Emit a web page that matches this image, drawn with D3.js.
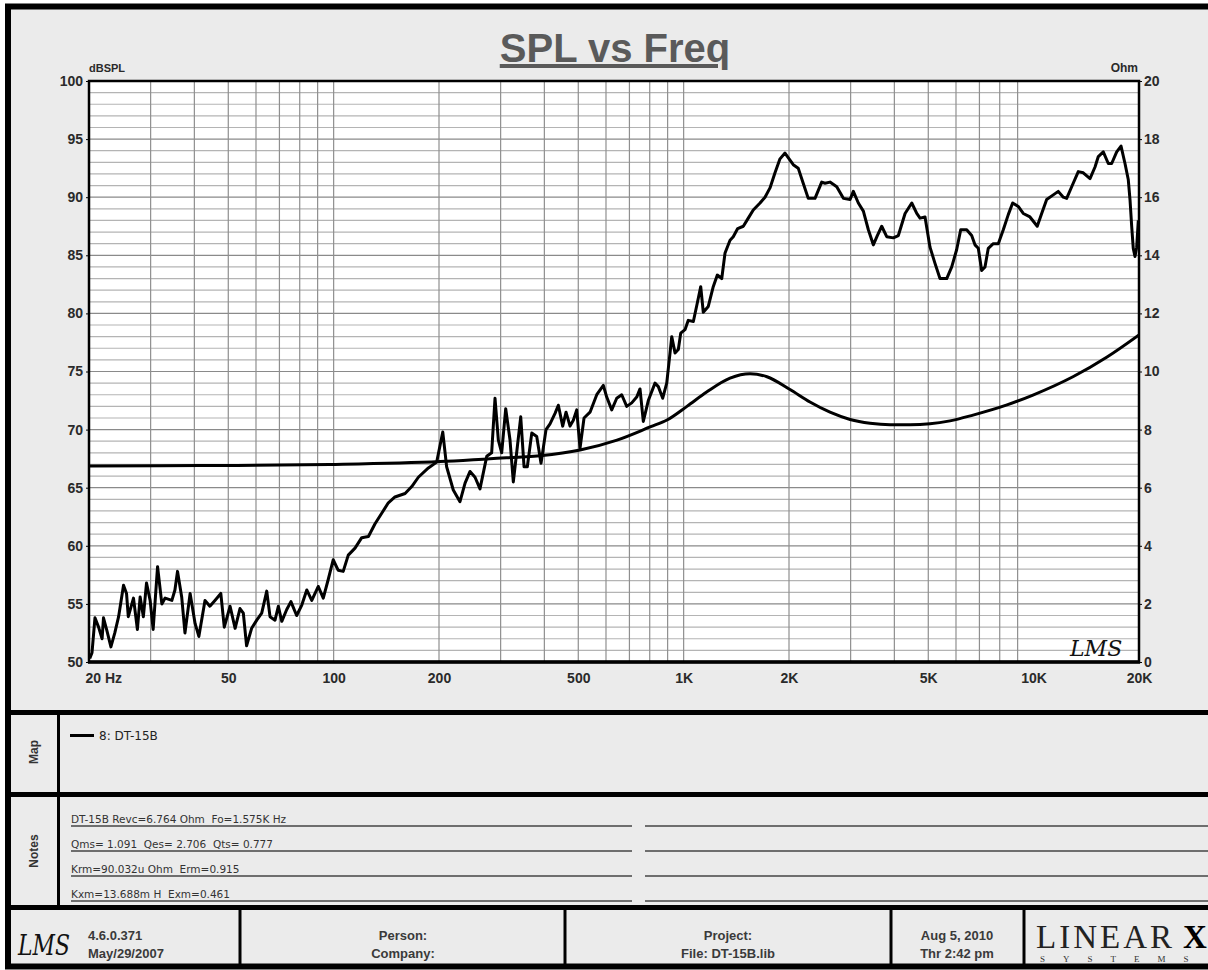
<!DOCTYPE html>
<html>
<head>
<meta charset="utf-8">
<script src="https://cdn.jsdelivr.net/npm/d3@7"></script>
<style>
  body { margin: 0; background: #fff; }
  svg { display: block; font-family: "Liberation Sans", Arial, sans-serif; }
  svg text { white-space: pre; }
</style>
</head>
<body>
<svg id="chart" width="1208" height="970"></svg>
<script>
// SPL response, [Hz, dB]
var splCurve = [
  [20.1,50.3],[20.4,50.8],[20.8,53.8],[21.3,53.0],[21.8,52.0],[22.0,53.8],[22.5,52.7],[23.1,51.3],
  [23.7,52.5],[24.3,53.9],[25.1,56.6],[25.6,55.9],[25.9,53.9],[26.8,55.5],[27.5,52.8],[28.0,55.6],
  [28.6,53.9],[29.2,56.8],[29.9,55.3],[30.5,52.8],[31.4,58.2],[32.3,55.0],[33.0,55.5],[34.5,55.3],
  [35.2,56.2],[35.8,57.8],[36.8,55.6],[37.6,52.5],[38.9,55.9],[40.2,53.3],[41.2,52.2],[42.9,55.3],
  [44.3,54.8],[45.8,55.3],[47.6,55.9],[48.7,53.0],[50.6,54.8],[52.3,52.9],[54.0,54.6],[55.2,54.2],
  [56.4,51.4],[58.3,52.9],[60.3,53.6],[62.3,54.2],[64.4,56.1],[65.8,53.9],[68.0,53.6],[69.5,54.8],
  [71.1,53.5],[73.4,54.5],[75.5,55.2],[78.4,54.0],[81.1,54.9],[83.8,56.2],[86.6,55.3],[90.4,56.5],
  [93.4,55.5],[96.5,57.1],[99.7,58.8],[103,57.9],[106.5,57.8],[110.1,59.2],[115.1,59.8],[120.3,60.7],
  [125.7,60.8],[131.3,61.9],[137.2,62.8],[143.3,63.7],[149.7,64.2],[160,64.5],[167.2,65.1],[174.6,65.9],
  [186.5,66.7],[197,67.2],[205,69.8],[210.3,66.8],[219.7,64.8],[229.6,63.8],[237.4,65.4],[245.3,66.4],
  [253.5,65.9],[261.9,64.9],[273.8,67.7],[282.8,68.0],[289.1,72.7],[295.5,69.1],[302.1,68.0],[310.2,71.8],
  [319.1,69.1],[326.1,65.5],[334.8,68.5],[342.4,71.1],[350,66.8],[357.6,66.8],[368.2,69.7],[380.4,69.4],
  [391.3,67.1],[404.4,70.0],[415.2,70.5],[429.1,71.4],[438.5,72.1],[451.3,70.3],[461.3,71.5],[473.6,70.3],
  [484,70.8],[494.9,71.7],[505.8,68.4],[519.3,71.0],[540.2,71.5],[564.6,73.0],[589.6,73.8],[602.9,72.8],
  [623.1,71.7],[643.9,72.7],[665.4,73.0],[687.7,72.0],[710.7,72.3],[734.4,72.8],[750.5,73.5],[766.9,70.7],
  [792.6,72.5],[828.3,74.0],[846.6,73.7],[871.4,72.7],[894.7,74.0],[914.4,76.6],[924.7,78.0],[944.9,76.6],
  [965.6,76.9],[981,78.3],[1009,78.6],[1031,79.4],[1066,79.3],[1094,80.9],[1119,82.3],[1138,80.1],
  [1176,80.6],[1215,82.3],[1248,83.3],[1285,83.0],[1313,85.2],[1357,86.3],[1386,86.6],[1427,87.3],
  [1481,87.5],[1530,88.2],[1581,88.9],[1653,89.5],[1708,90.0],[1765,90.8],[1824,92.1],[1885,93.3],
  [1948,93.8],[2013,93.2],[2057,92.8],[2125,92.5],[2196,91.2],[2270,89.9],[2373,89.9],[2480,91.3],
  [2535,91.2],[2619,91.3],[2738,90.9],[2860,89.9],[2989,89.8],[3054,90.5],[3156,89.5],[3262,88.8],
  [3371,87.2],[3483,85.9],[3576,86.7],[3681,87.5],[3804,86.6],[3973,86.5],[4106,86.7],[4292,88.6],
  [4485,89.5],[4635,88.6],[4736,88.2],[4894,88.3],[5057,85.7],[5226,84.3],[5400,83.0],[5645,83.0],
  [5834,84.0],[6028,85.5],[6189,87.2],[6437,87.2],[6652,86.7],[6798,85.9],[6948,85.6],[7105,83.7],
  [7261,84.0],[7420,85.6],[7668,86.0],[7925,86.0],[8190,87.2],[8463,88.5],[8710,89.5],[9037,89.2],
  [9340,88.6],[9762,88.3],[10240,87.5],[10543,88.6],[10895,89.8],[11378,90.2],[11759,90.5],[12153,90.0],
  [12428,89.9],[12844,90.9],[13414,92.2],[13862,92.1],[14490,91.6],[14975,92.6],[15303,93.5],[15812,93.9],
  [16341,92.9],[16710,92.9],[17270,93.9],[17770,94.4],[18240,92.9],[18640,91.5],[18850,89.8],[19060,87.5],
  [19260,85.6],[19480,84.9],[19700,85.7],[19910,88.0]
];

// impedance, [Hz, Ohm]
var ohmCurve = [
  [20,6.75],[41.5,6.76],[97.6,6.8],[201.3,6.9],[279.8,7.0],[388.8,7.1],[505.8,7.3],[645.1,7.64],
  [805.3,8.1],[896.4,8.33],[1022,8.8],[1166,9.3],[1357,9.77],[1548,9.92],[1730,9.82],[2013,9.38],
  [2296,8.95],[2619,8.6],[2989,8.35],[3408,8.22],[3888,8.17],[4434,8.17],[5057,8.2],[5768,8.3],
  [6712,8.5],[8393,8.85],[9955,9.19],[12950,9.82],[16210,10.5],[20000,11.26]
];

var xTickVals = [20, 50, 100, 200, 500, 1000, 2000, 5000, 10000, 20000];
var xTickText = ["20 Hz", "50", "100", "200", "500", "1K", "2K", "5K", "10K", "20K"];
var dbTicks = [50, 55, 60, 65, 70, 75, 80, 85, 90, 95, 100];
var ohmTicks = [0, 2, 4, 6, 8, 10, 12, 14, 16, 18, 20];

var legendLabel = "8: DT-15B";
var notesLines = [
  "DT-15B Revc=6.764 Ohm  Fo=1.575K Hz",
  "Qms= 1.091  Qes= 2.706  Qts= 0.777",
  "Krm=90.032u Ohm  Erm=0.915",
  "Kxm=13.688m H  Exm=0.461"
];

(function () {
  var svg = d3.select("#chart");
  var pLeft = 89, pRight = 1139, pTop = 81, pBottom = 662;

  var x = d3.scaleLog().domain([20, 20000]).range([pLeft, pRight]);
  var y = d3.scaleLinear().domain([50, 100]).range([pBottom, pTop]);
  var y2 = d3.scaleLinear().domain([0, 20]).range([pBottom, pTop]);

  // outer panel
  svg.append("rect")
    .attr("x", 8).attr("y", 6.5)
    .attr("width", 1240).attr("height", 960)
    .attr("fill", "#ebebeb")
    .attr("stroke", "#000").attr("stroke-width", 6);

  // title
  svg.append("text")
    .attr("x", 615).attr("y", 62)
    .attr("text-anchor", "middle")
    .attr("font-size", 40).attr("font-weight", "bold")
    .attr("fill", "#5a5a5a")
    .attr("text-decoration", "underline")
    .text("SPL vs Freq");

  // plot background
  svg.append("rect")
    .attr("x", pLeft).attr("y", pTop)
    .attr("width", pRight - pLeft).attr("height", pBottom - pTop)
    .attr("fill", "#fff");

  var grid = svg.append("g");

  // horizontal grid every dB
  grid.selectAll(".hg")
    .data(d3.range(51, 100))
    .enter().append("line")
    .attr("x1", pLeft).attr("x2", pRight)
    .attr("y1", d => y(d)).attr("y2", d => y(d))
    .attr("stroke", d => d % 5 == 0 ? "#8a8a8a" : "#b4b4b4")
    .attr("stroke-width", 1.2);

  // vertical log grid
  var vLines = [];
  [10, 100, 1000].forEach(function (dec) {
    for (var k = 1; k < 10; k++) {
      var f = dec * k;
      if (f > 20 && f < 20000) vLines.push(f);
    }
  });
  grid.selectAll(".vg")
    .data(vLines)
    .enter().append("line")
    .attr("x1", d => x(d)).attr("x2", d => x(d))
    .attr("y1", pTop).attr("y2", pBottom)
    .attr("stroke", "#8f8f8f")
    .attr("stroke-width", 1.2);

  svg.append("clipPath").attr("id", "plotclip")
    .append("rect")
    .attr("x", pLeft).attr("y", pTop)
    .attr("width", pRight - pLeft).attr("height", pBottom - pTop);

  var curves = svg.append("g").attr("clip-path", "url(#plotclip)");

  var ohmLine = d3.line()
    .x(d => x(d[0]))
    .y(d => y2(d[1]))
    .curve(d3.curveMonotoneX);

  var splLine = d3.line()
    .x(d => x(d[0]))
    .y(d => y(d[1]));

  curves.append("path")
    .datum(ohmCurve)
    .attr("d", ohmLine)
    .attr("fill", "none")
    .attr("stroke", "#000")
    .attr("stroke-width", 3);

  curves.append("path")
    .datum(splCurve)
    .attr("d", splLine)
    .attr("fill", "none")
    .attr("stroke", "#000")
    .attr("stroke-width", 3)
    .attr("stroke-linejoin", "round");

  // LMS mark in plot
  svg.append("text")
    .attr("x", 1070).attr("y", 656)
    .attr("font-family", "DejaVu Serif")
    .attr("font-style", "italic")
    .attr("font-size", 22)
    .attr("fill", "#111")
    .text("LMS");

  // plot frame
  svg.append("rect")
    .attr("x", pLeft).attr("y", pTop)
    .attr("width", pRight - pLeft).attr("height", pBottom - pTop)
    .attr("fill", "none")
    .attr("stroke", "#000").attr("stroke-width", 2.5);
  svg.append("line")
    .attr("x1", pLeft - 1).attr("x2", pRight + 1)
    .attr("y1", pBottom).attr("y2", pBottom)
    .attr("stroke", "#000").attr("stroke-width", 3.5);

  // axes
  var yAxis = d3.axisLeft(y).tickValues(dbTicks).tickSize(3).tickPadding(3);
  var y2Axis = d3.axisRight(y2).tickValues(ohmTicks).tickSize(3).tickPadding(2);
  var xAxis = d3.axisBottom(x).tickValues(xTickVals)
    .tickFormat((d, i) => xTickText[i]).tickSize(0).tickPadding(11);

  function styleAxis(g) {
    g.select(".domain").remove();
    g.selectAll("line").attr("stroke", "#000");
    g.selectAll("text")
      .attr("font-family", "Liberation Sans, Arial, sans-serif")
      .attr("font-size", 14)
      .attr("font-weight", "bold")
      .attr("fill", "#2a2a2a");
  }

  svg.append("g").attr("transform", "translate(" + pLeft + ",0)").call(yAxis).call(styleAxis);
  svg.append("g").attr("transform", "translate(" + pRight + ",0)").call(y2Axis).call(styleAxis);
  var xg = svg.append("g").attr("transform", "translate(0," + pBottom + ")").call(xAxis).call(styleAxis);
  xg.selectAll(".tick text")
    .filter((d, i) => i == 0)
    .attr("text-anchor", "start")
    .attr("dx", -4);

  svg.append("text")
    .attr("x", pLeft).attr("y", 72)
    .attr("font-size", 11).attr("font-weight", "bold").attr("fill", "#2a2a2a")
    .text("dBSPL");
  svg.append("text")
    .attr("x", pRight - 1).attr("y", 72)
    .attr("text-anchor", "end")
    .attr("font-size", 12).attr("font-weight", "bold").attr("fill", "#2a2a2a")
    .text("Ohm");

  // section dividers
  var dividers = svg.append("g").attr("stroke", "#000");
  dividers.append("line").attr("x1", 8).attr("x2", 1208).attr("y1", 712.5).attr("y2", 712.5).attr("stroke-width", 5);
  dividers.append("line").attr("x1", 8).attr("x2", 1208).attr("y1", 794.5).attr("y2", 794.5).attr("stroke-width", 5);
  dividers.append("line").attr("x1", 8).attr("x2", 1208).attr("y1", 907.5).attr("y2", 907.5).attr("stroke-width", 5);
  dividers.append("line").attr("x1", 58.5).attr("x2", 58.5).attr("y1", 712).attr("y2", 908).attr("stroke-width", 3);

  // side labels
  svg.append("text")
    .attr("transform", "translate(38,752) rotate(-90)")
    .attr("text-anchor", "middle")
    .attr("font-size", 12).attr("font-weight", "bold").attr("fill", "#333")
    .text("Map");
  svg.append("text")
    .attr("transform", "translate(38,851) rotate(-90)")
    .attr("text-anchor", "middle")
    .attr("font-size", 12).attr("font-weight", "bold").attr("fill", "#333")
    .text("Notes");

  // legend
  svg.append("line")
    .attr("x1", 70).attr("x2", 94).attr("y1", 735.5).attr("y2", 735.5)
    .attr("stroke", "#000").attr("stroke-width", 3);
  svg.append("text")
    .attr("x", 99).attr("y", 740)
    .attr("font-family", "DejaVu Sans, sans-serif")
    .attr("font-size", 12).attr("fill", "#222")
    .text(legendLabel);

  // notes
  var notes = svg.append("g");
  notes.selectAll(".nt")
    .data(notesLines)
    .enter().append("text")
    .attr("x", 71).attr("y", (d, i) => 823 + i * 25)
    .attr("font-family", "DejaVu Sans, sans-serif")
    .attr("font-size", 10.5).attr("fill", "#333")
    .text(d => d);
  [[71, 632], [645, 1208]].forEach(function (seg) {
    notes.selectAll(null)
      .data(notesLines)
      .enter().append("line")
      .attr("x1", seg[0]).attr("x2", seg[1])
      .attr("y1", (d, i) => 826 + i * 25).attr("y2", (d, i) => 826 + i * 25)
      .attr("stroke", "#444").attr("stroke-width", 1.5);
  });

  // footer
  var footCells = [240, 565, 891, 1024];
  dividers.selectAll(".fd")
    .data(footCells)
    .enter().append("line")
    .attr("x1", d => d).attr("x2", d => d)
    .attr("y1", 908).attr("y2", 966)
    .attr("stroke-width", 3);

  var footText = [
    {x: 88, a: "start", t1: "4.6.0.371", t2: "May/29/2007"},
    {x: 403, a: "middle", t1: "Person:", t2: "Company:"},
    {x: 728, a: "middle", t1: "Project:", t2: "File: DT-15B.lib"},
    {x: 957, a: "middle", t1: "Aug 5, 2010", t2: "Thr 2:42 pm"}
  ];
  var ft = svg.append("g")
    .attr("font-size", 13).attr("font-weight", "bold").attr("fill", "#3a3a3a");
  ft.selectAll(".f1").data(footText).enter().append("text")
    .attr("x", d => d.x).attr("y", 940).attr("text-anchor", d => d.a).text(d => d.t1);
  ft.selectAll(".f2").data(footText).enter().append("text")
    .attr("x", d => d.x).attr("y", 958).attr("text-anchor", d => d.a).text(d => d.t2);

  svg.append("text")
    .attr("x", 18).attr("y", 955)
    .attr("font-family", "DejaVu Serif")
    .attr("font-style", "italic")
    .attr("font-size", 28)
    .attr("textLength", 52).attr("lengthAdjust", "spacingAndGlyphs")
    .attr("fill", "#111")
    .text("LMS");

  // LinearX logo
  svg.append("text")
    .attr("x", 1036).attr("y", 948)
    .attr("font-family", "Liberation Serif, serif")
    .attr("font-size", 33)
    .attr("letter-spacing", 3)
    .attr("fill", "#222")
    .text("LINEAR");
  svg.append("text")
    .attr("x", 1183).attr("y", 948)
    .attr("font-family", "Liberation Serif, serif")
    .attr("font-weight", "bold")
    .attr("font-size", 33)
    .attr("fill", "#000")
    .text("X");
  svg.append("text")
    .attr("x", 1040).attr("y", 962)
    .attr("font-family", "Liberation Serif, serif")
    .attr("font-size", 9)
    .attr("letter-spacing", 18)
    .attr("fill", "#333")
    .text("SYSTEMS");
})();
</script>
</body>
</html>
